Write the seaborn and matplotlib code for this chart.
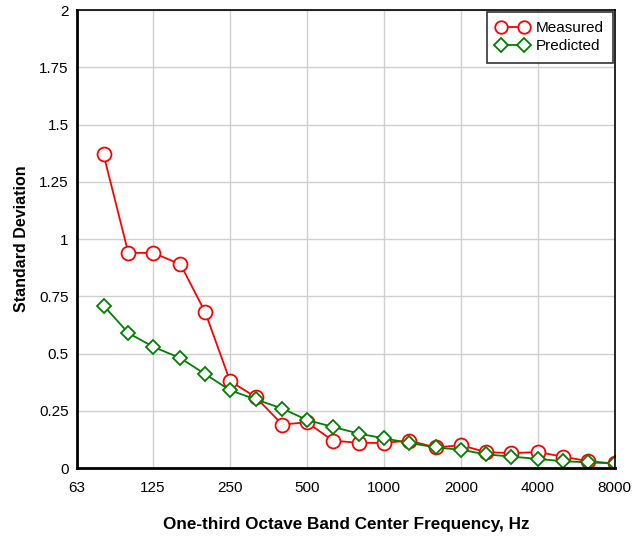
import matplotlib
matplotlib.use("Agg")
import matplotlib.pyplot as plt
import seaborn as sns
import pandas as pd

freqs = [80, 100, 125, 160, 200, 250, 315, 400, 500, 630, 800, 1000, 1250, 1600, 2000, 2500, 3150, 4000, 5000, 6300, 8000]
measured = [1.37, 0.94, 0.94, 0.89, 0.68, 0.38, 0.31, 0.19, 0.20, 0.12, 0.11, 0.11, 0.12, 0.09, 0.10, 0.07, 0.065, 0.07, 0.05, 0.03, 0.02]
predicted = [0.71, 0.59, 0.53, 0.48, 0.41, 0.34, 0.30, 0.26, 0.21, 0.18, 0.15, 0.13, 0.11, 0.09, 0.08, 0.06, 0.05, 0.04, 0.03, 0.025, 0.02]
xticks = [63, 125, 250, 500, 1000, 2000, 4000, 8000]
yticks = [0, 0.25, 0.5, 0.75, 1, 1.25, 1.5, 1.75, 2]
ytick_labels = ["0", "0.25", "0.5", "0.75", "1", "1.25", "1.5", "1.75", "2"]

sns.set_theme(style="white")
plt.rcParams['font.family'] = ['Liberation Sans', 'DejaVu Sans']
plt.rcParams['text.color'] = 'black'
plt.rcParams['axes.labelcolor'] = 'black'

df = pd.DataFrame({"freq": freqs * 2,
                   "value": measured + predicted,
                   "series": ["Measured"] * len(freqs) + ["Predicted"] * len(freqs)})

fig = plt.figure(figsize=(6.38, 5.38), dpi=100)
ax = fig.add_axes([0.1207, 0.130, 0.843, 0.851])
ax.set_xscale("log")

sns.lineplot(data=df[df.series == "Measured"], x="freq", y="value", ax=ax,
             color="#ff0000", marker="o", markersize=10, markerfacecolor="white",
             markeredgecolor="#ff0000", markeredgewidth=1.3, linewidth=1.3, label="Measured")
sns.lineplot(data=df[df.series == "Predicted"], x="freq", y="value", ax=ax,
             color="#008000", marker="D", markersize=7.5, markerfacecolor="white",
             markeredgecolor="#008000", markeredgewidth=1.3, linewidth=1.3, label="Predicted")

ax.set_xlim(63, 8000)
ax.set_ylim(0, 2)
ax.set_xticks(xticks)
ax.set_xticklabels([str(t) for t in xticks])
ax.xaxis.set_minor_locator(matplotlib.ticker.NullLocator())
ax.set_yticks(yticks)
ax.set_yticklabels(ytick_labels)
ax.grid(True, color="#d0d0d0", linewidth=1)
ax.set_axisbelow(True)
for s in ax.spines.values():
    s.set_color("black")
    s.set_linewidth(1.2)
ax.spines["left"].set_linewidth(2)
ax.spines["bottom"].set_linewidth(2)
ax.tick_params(axis="both", labelsize=11, colors="black", length=0)
ax.tick_params(axis="x", pad=9)
ax.tick_params(axis="y", pad=6)

ax.set_xlabel("One-third Octave Band Center Frequency, Hz", fontsize=12.3, fontweight="bold", labelpad=16)
ax.set_ylabel("Standard Deviation", fontsize=11.5, fontweight="bold", labelpad=7)

leg = ax.legend(loc="upper right", fontsize=11, frameon=True, fancybox=False,
                edgecolor="black", handlelength=2.1, numpoints=2, markerscale=0.9,
                borderaxespad=0.1, labelspacing=0.3, handletextpad=0.5, borderpad=0.6)
leg.get_frame().set_linewidth(1.2)

fig.savefig("out.png", dpi=100)
